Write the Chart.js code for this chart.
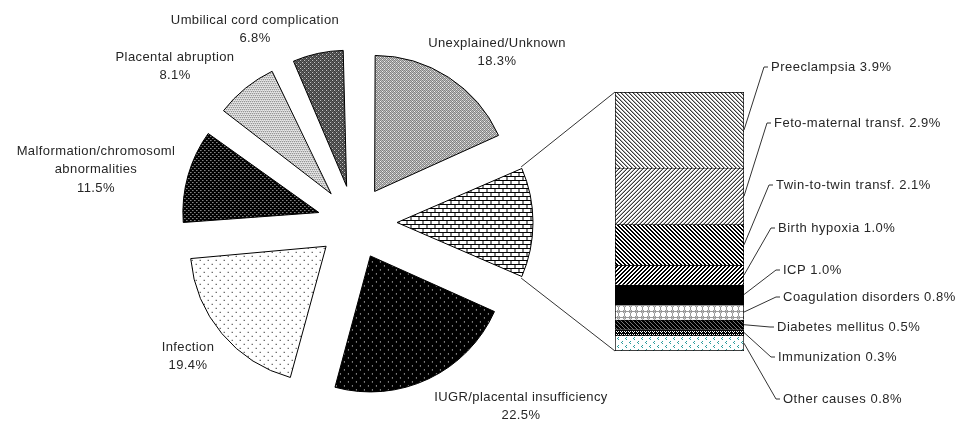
<!DOCTYPE html>
<html><head><meta charset="utf-8">
<script src="https://cdn.jsdelivr.net/npm/chart.js@4.4.1/dist/chart.umd.min.js"></script>
<style>
html,body{margin:0;padding:0;background:#fff;}
#wrap{position:relative;width:971px;height:421px;overflow:hidden;background:#fff;}
canvas{position:absolute;left:0;top:0;}
</style></head>
<body><div id="wrap"><canvas id="bar" width="971" height="421"></canvas><canvas id="pie" width="971" height="421"></canvas></div>
<script>
// ---- data ----
const pieLabels = ['Unexplained/Unknown', 'Other', 'IUGR/placental insufficiency', 'Infection',
  'Malformation/chromosoml\nabnormalities', 'Placental abruption', 'Umbilical cord complication'];
const pieValues = [18.3, 13.4, 22.5, 19.4, 11.5, 8.1, 6.8];
const barLabels = ['Preeclampsia', 'Feto-maternal transf.', 'Twin-to-twin transf.', 'Birth hypoxia', 'ICP',
  'Coagulation disorders', 'Diabetes mellitus', 'Immunization', 'Other causes'];
const barValues = [3.9, 2.9, 2.1, 1.0, 1.0, 0.8, 0.5, 0.3, 0.8];

// ---- layout / style ----
const pieLabelPos = [[497, 43], null, [521, 397], [188, 347], [96, 151], [175, 57], [255, 20]];
const barLabelPos = [[771, 67], [774, 123], [776, 185], [778, 228], [783, 270], [783, 297], [777, 327], [778, 357], [783, 399]];
const pieOffsets = [148, 170, 148, 148, 148, 148, 148];
const FONT = '13px "Liberation Sans", Arial, sans-serif';
const TEXT = '#262626';
const LINE = '#333';

function tile(rows, colors) {
  const h = rows.length, w = rows[0].length;
  const c = document.createElement('canvas'); c.width = w; c.height = h;
  const g = c.getContext('2d');
  for (let y = 0; y < h; y++) for (let x = 0; x < w; x++) {
    g.fillStyle = colors[rows[y][x]]; g.fillRect(x, y, 1, 1);
  }
  return g.createPattern(c, 'repeat');
}
const piePatterns = [
  tile(['w.l.', '.l.l', 'l.w.', '.l.l'], {'.': '#7a7a7a', w: '#ffffff', l: '#c8c8c8'}),
  tile(['kkkkkkkk', 'k.......', 'k.......', 'k.......', 'kkkkkkkk', '....k...', '....k...', '....k...'], {'.': '#fff', k: '#000'}),
  tile(['w.......', '........', '........', '........', '....w...', '........', '........', '........'], {'.': '#000', w: '#fff'}),
  tile(['k.......', '........', '........', '........', '....k...', '........', '........', '........'], {'.': '#fff', k: '#000'}),
  tile(['w...', '....', '..w.', '....'], {'.': '#000', w: '#e0e0e0'}),
  tile(['k.k.', '....', '.k.k', '....'], {'.': '#fff', k: '#222'}),
  tile(['w.l.', '.l.l', 'l.w.', '.l.l'], {'.': '#262626', w: '#ffffff', l: '#6e6e6e'})
];
const barPatterns = [
  tile(['kg..', '.kg.', '..kg', 'g..k'], {'.': '#fff', k: '#3a3a3a', g: '#aaa'}),
  tile(['..gk', '.gk.', 'gk..', 'k..g'], {'.': '#fff', k: '#3a3a3a', g: '#aaa'}),
  tile(['kk..', '.kk.', '..kk', 'k..k'], {'.': '#fff', k: '#000'}),
  tile(['..kk', '.kk.', 'kk..', 'k..k'], {'.': '#fff', k: '#000'}),
  '#000',
  tile(['g.www.', '.wwwww', '.wwwww', '.wwwww', 'g.www.', '......'], {'.': '#999', g: '#ccc', w: '#fff'}),
  tile(['g...', '.g..', '..g.', '...g'], {'.': '#000', g: '#777'}),
  tile(['kkkk', 'wkwk', 'kwkk'], {k: '#000', w: '#fff'}),
  tile(['........', '..t.....', '.t......', '..t.....', '........', '......t.', '.....t..', '......t.'], {'.': '#fff', t: '#2a9c9c'})
];

// ---- bar chart ----
const barTotal = barValues.reduce((a, b) => a + b, 0);
const barLabelPlugin = {
  id: 'barLabels',
  afterDraw(chart) {
    const ctx = chart.ctx;
    ctx.save();
    ctx.font = FONT; ctx.fillStyle = TEXT; ctx.textAlign = 'left'; ctx.textBaseline = 'middle';
    try { ctx.letterSpacing = '0.5px'; } catch (e) {}
    ctx.strokeStyle = LINE; ctx.lineWidth = 1;
    chart.data.datasets.forEach((ds, i) => {
      const el = chart.getDatasetMeta(i).data[0];
      const right = el.x + el.width / 2;
      const midY = (el.y + el.base) / 2;
      const [lx, ly] = barLabelPos[i];
      ctx.beginPath(); ctx.moveTo(right, midY); ctx.lineTo(lx - 7, ly); ctx.lineTo(lx - 3, ly); ctx.stroke();
      ctx.fillText(barLabels[i] + ' ' + barValues[i].toFixed(1) + '%', lx, ly);
    });
    ctx.restore();
  }
};
const barChart = new Chart(document.getElementById('bar'), {
  type: 'bar',
  data: {
    labels: [''],
    datasets: barLabels.map((l, i) => ({
      label: l, data: [barValues[i]], backgroundColor: barPatterns[i], borderColor: '#000',
      borderWidth: {top: 1, left: 1, right: 1, bottom: i === barLabels.length - 1 ? 1 : 0},
      borderSkipped: false, barPercentage: 1, categoryPercentage: 1
    }))
  },
  options: {
    responsive: false, animation: false, events: [],
    layout: {padding: {left: 615, right: 227, top: 92, bottom: 70}},
    scales: {
      x: {display: false, stacked: true},
      y: {display: false, stacked: true, reverse: true, min: 0, max: barTotal}
    },
    plugins: {legend: {display: false}, tooltip: {enabled: false}}
  },
  plugins: [barLabelPlugin]
});

// ---- pie chart ----
const radiusFix = {
  id: 'radiusFix',
  beforeDatasetsDraw(chart) {
    const meta = chart.getDatasetMeta(0);
    const R = meta.controller.outerRadius;
    meta.data.forEach(arc => {
      const off = (arc.options.offset || 0) / 4;
      const fix = 1 - Math.sin(Math.min(Math.PI, arc.circumference));
      arc.outerRadius = R - off * fix;
    });
  }
};
const pieLabelPlugin = {
  id: 'pieLabels',
  afterDraw(chart) {
    const ctx = chart.ctx;
    const meta = chart.getDatasetMeta(0);
    const R = meta.controller.outerRadius;
    ctx.save();
    // connector lines from the "Other" slice to the bar
    const arc = meta.data[1];
    const mid = (arc.startAngle + arc.endAngle) / 2, off = arc.options.offset / 4;
    const ax = arc.x + Math.cos(mid) * off, ay = arc.y + Math.sin(mid) * off;
    const top = barChart.getDatasetMeta(0).data[0];
    const bot = barChart.getDatasetMeta(barLabels.length - 1).data[0];
    const bl = top.x - top.width / 2;
    const bt = Math.min(top.y, top.base), bb = Math.max(bot.y, bot.base);
    ctx.strokeStyle = LINE; ctx.lineWidth = 1;
    ctx.beginPath();
    ctx.moveTo(ax + R * Math.cos(arc.startAngle), ay + R * Math.sin(arc.startAngle)); ctx.lineTo(bl, bt);
    ctx.moveTo(ax + R * Math.cos(arc.endAngle), ay + R * Math.sin(arc.endAngle)); ctx.lineTo(bl, bb);
    ctx.stroke();
    // labels
    ctx.font = FONT; ctx.fillStyle = TEXT; ctx.textAlign = 'center'; ctx.textBaseline = 'middle';
    try { ctx.letterSpacing = '0.4px'; } catch (e) {}
    pieLabels.forEach((l, i) => {
      const p = pieLabelPos[i];
      if (!p) return;
      const lines = l.split('\n').concat([pieValues[i].toFixed(1) + '%']);
      lines.forEach((t, j) => ctx.fillText(t, p[0], p[1] + j * 18.5));
    });
    ctx.restore();
  }
};
new Chart(document.getElementById('pie'), {
  type: 'pie',
  data: {
    labels: pieLabels,
    datasets: [{
      data: pieValues, backgroundColor: piePatterns, borderColor: '#000', borderWidth: 1,
      offset: pieOffsets, hoverOffset: 0, radius: 136
    }]
  },
  options: {
    responsive: false, animation: false, events: [], radius: 136,
    layout: {padding: {left: 0, right: 262, top: 24, bottom: 0}},
    plugins: {legend: {display: false}, tooltip: {enabled: false}}
  },
  plugins: [radiusFix, pieLabelPlugin]
});
</script>
</body></html>
